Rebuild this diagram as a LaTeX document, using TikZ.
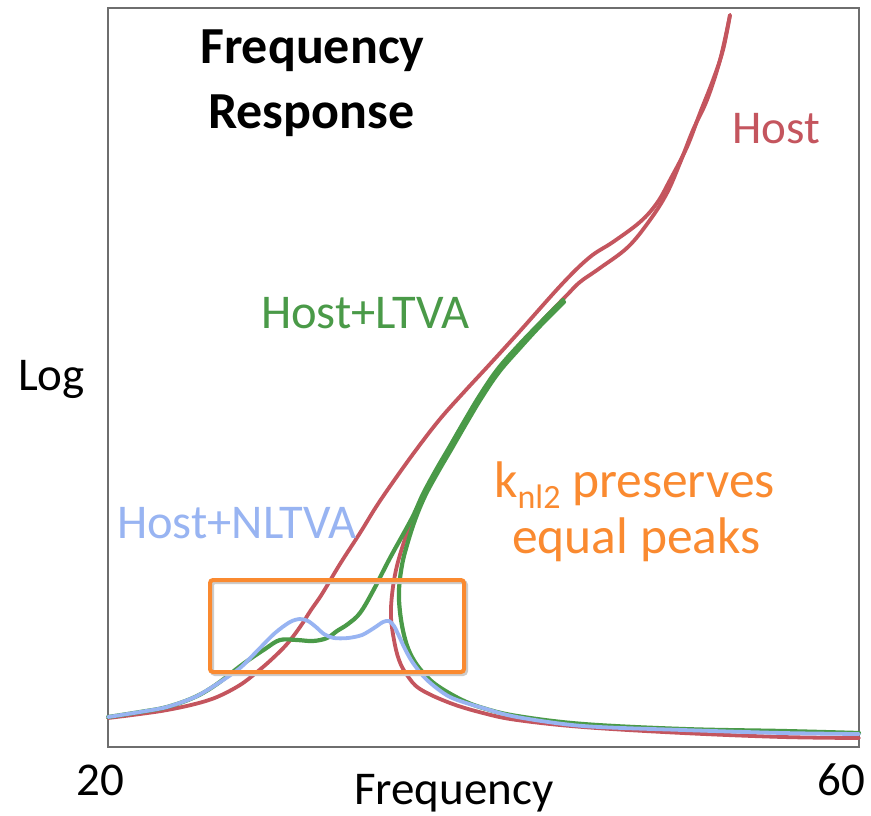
\documentclass[tikz,border=0pt]{standalone}
\usepackage{fontspec}
\setmainfont{Carlito}
\definecolor{hostred}{HTML}{C4555E}
\definecolor{ltvagreen}{HTML}{4A9A48}
\definecolor{nlblue}{HTML}{98B4F2}
\definecolor{boxorange}{HTML}{FA8A30}
\definecolor{framegray}{HTML}{6E6E6E}
\begin{document}
\begin{tikzpicture}[x=1pt,y=-1pt,
  lbl/.style={inner sep=0pt,anchor=base west,font=\fontsize{47}{56}\selectfont},
  biglbl/.style={inner sep=0pt,anchor=base west,font=\fontsize{48.5}{58}\selectfont},
  orlbl/.style={inner sep=0pt,anchor=base west,font=\fontsize{51.5}{60}\selectfont,boxorange},
  ttl/.style={inner sep=0pt,anchor=base west,font=\fontsize{52}{60}\selectfont\bfseries},
  curve/.style={line join=round,line cap=round}]
\useasboundingbox (0,0) rectangle (871,815);
\fill[white] (0,0) rectangle (871,815);
% frame
\draw[framegray,line width=1.6pt] (108,8) rectangle (859,747);
% Host (red)
\draw[curve,hostred,line width=3.8pt] plot[smooth,tension=0.6] coordinates {
 (108,718) (140,714) (167,710) (195,704) (217,697) (240,685) (257,672) (272,659)
 (287,644) (300,627) (311,610) (322,594) (340,564) (360,533) (376,507) (393,482)
 (416,450) (440,419) (465,391) (490,364) (520,331) (563,283) (590,257) (613,242)
 (640,222) (657,203) (670,180) (687,147) (700,113) (713,80) (723,50) (730,15)};
\draw[curve,hostred,line width=3.8pt] plot[smooth,tension=0.6] coordinates {
 (730,15) (720,60) (707,100) (693,130) (680,163) (667,193) (650,220) (628,247)
 (600,268) (580,282) (567,295) (540,323) (517,348) (497,371) (480,396) (465,421)
 (450,447) (436,471) (423,495) (412,520) (403,545) (396,570) (392,595) (391,617)
 (394,640) (399,660) (407,675) (420,689) (450,703) (483,713) (517,720) (583,727)
 (683,733) (783,737) (859,738)};
% Host+LTVA (green)
\draw[curve,ltvagreen,line width=4.2pt] plot[smooth,tension=0.6] coordinates {
 (108,717) (140,712) (167,707) (195,697) (217,684) (243,664) (265,649) (280,640)
 (297,640) (313,641) (327,638) (337,631) (348,624) (360,613) (373,591) (390,558)
 (412,518) (423,494) (436,470) (450,446) (465,420) (480,395) (497,370) (517,347)
 (540,323) (563,300)};
\draw[curve,ltvagreen,line width=4.2pt] plot[smooth,tension=0.6] coordinates {
 (564,302) (541,325) (519,349) (499,372) (482,397) (467,422) (452,448) (438,472)
 (425,496) (415,520) (407,545) (402,565) (399,590) (400,612) (404,635)
 (410,653) (420,669) (435,684) (460,699) (483,708) (517,716) (583,724) (683,729)
 (783,731) (859,733)};
% Host+NLTVA (blue)
\draw[curve,nlblue,line width=3.8pt] plot[smooth,tension=0.5] coordinates {
 (108,717) (140,712) (167,707) (195,697) (217,684) (240,668) (258,650) (275,633)
 (290,622) (300,619) (308,621) (316,627) (324,634) (334,638) (348,638) (362,635)
 (374,628) (383,622) (389,621) (394,626) (399,636) (405,649) (413,663) (427,680)
 (450,697) (483,708) (517,717) (583,726) (683,730) (783,733) (859,734)};
% highlight box
\draw[gray!40,line width=4pt,rounded corners=3pt] (212,582) rectangle (466,674);
\draw[boxorange,line width=4pt,rounded corners=3pt] (210,580) rectangle (464,672);
% texts
\node[ttl] (t1) at (200,63) {Frequency};
\node[ttl] (t2) at (208,128) {Response};
\node[lbl,hostred] (lhost) at (732,143) {Host};
\node[biglbl,ltvagreen] (lltva) at (261,328) {Host+LTVA};
\node[biglbl,nlblue] (lnltva) at (117,538) {Host+NLTVA};
\node[orlbl] (lk1) at (494,497) {k\raisebox{-11pt}{\fontsize{34}{40}\selectfont nl2} preserves};
\node[orlbl] (lk2) at (512,553) {equal peaks};
\node[lbl] (ylab) at (18,390) {Log};
\node[lbl] (xlab) at (354,804) {Frequency};
\node[lbl] (x20) at (76,795) {20};
\node[lbl] (x60) at (817,795) {60};
\end{tikzpicture}
\end{document}
